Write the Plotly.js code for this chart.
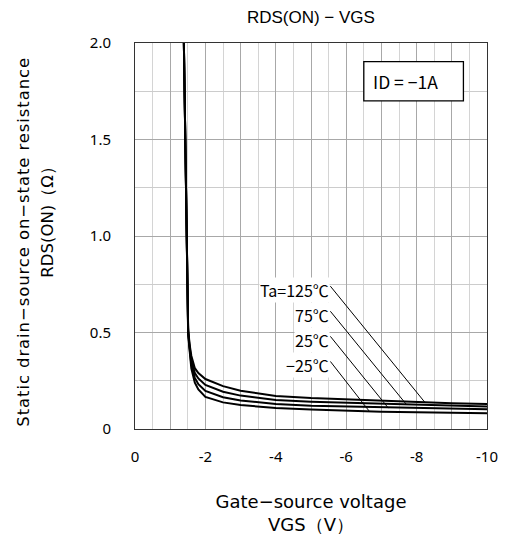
<!DOCTYPE html>
<html><head><meta charset="utf-8">
<script src="https://cdn.plot.ly/plotly-3.0.1.min.js"></script>
<style>
body{margin:0;background:#fff}#chart{width:508px;height:535px}
.annotation[data-index="5"] text{letter-spacing:0.9px}
</style>
</head><body><div id="chart"></div>
<script>
// Gate-source voltage (V)
const vgs = [-1.38, -1.40, -1.42, -1.45, -1.48, -1.51, -1.55, -1.6, -1.7, -1.8, -2.0, -2.5, -3, -4, -5, -6, -7, -8, -9, -10];
// RDS(ON) (Ohm) per ambient temperature
const r125 = [2.1, 1.85, 1.5, 1.1, 0.75, 0.52, 0.44, 0.38, 0.315, 0.29, 0.259, 0.222, 0.198, 0.171, 0.160, 0.153, 0.145, 0.139, 0.134, 0.130];
const r75  = [2.1, 1.85, 1.5, 1.1, 0.75, 0.51, 0.43, 0.355, 0.29, 0.262, 0.228, 0.193, 0.173, 0.150, 0.141, 0.136, 0.129, 0.124, 0.120, 0.116];
const r25  = [2.1, 1.85, 1.5, 1.1, 0.75, 0.50, 0.42, 0.335, 0.265, 0.232, 0.197, 0.165, 0.148, 0.129, 0.120, 0.116, 0.111, 0.107, 0.104, 0.102];
const rm25 = [2.1, 1.85, 1.5, 1.1, 0.75, 0.49, 0.41, 0.315, 0.24, 0.205, 0.166, 0.138, 0.124, 0.109, 0.101, 0.095, 0.090, 0.087, 0.084, 0.081];
const seriesNames = ["Ta=125℃", "75℃", "25℃", "−25℃"];
// label anchor (right end) and leader target on curve
const labelX = [-5.55, -5.55, -5.55, -5.55];
const labelY = [0.72, 0.59, 0.46, 0.33];
const leaderX = [-8.24, -7.72, -7.2, -6.66];
const leaderY = [0.137, 0.125, 0.108, 0.091];
// axis ticks
const xTickVals = [0, -1, -2, -3, -4, -5, -6, -7, -8, -9, -10];
const xTickText = ["0", "", "-2", "", "-4", "", "-6", "", "-8", "", "-10"];
const yTickVals = [0, 0.5, 1.0, 1.5, 2.0];
const yTickText = ["0", "0.5", "1.0", "1.5", "2.0"];
const yTitleLines = ["Static drain−source on−state resistance", "RDS(ON)（Ω）"];

const jp = '"Noto Sans CJK JP", "Noto Sans", sans-serif';
const dv = '"DejaVu Sans", sans-serif';
const allSeries = [r125, r75, r25, rm25];
const traces = allSeries.map((r, i) => ({
  x: vgs, y: r, type: 'scatter', mode: 'lines', name: seriesNames[i],
  line: {color: '#000', width: 2}, hoverinfo: 'skip'
}));

const annotations = [];
const shapes = [];
seriesNames.forEach((n, i) => {
  annotations.push({x: labelX[i], y: labelY[i], xref: 'x', yref: 'y', text: n, showarrow: false,
    xanchor: 'right', yanchor: 'middle', font: {family: jp, size: 16, color: '#000'}, bgcolor: '#fff', borderpad: 0});
  shapes.push({type: 'line', xref: 'x', yref: 'y', x0: labelX[i], y0: labelY[i] + 0.02, x1: leaderX[i], y1: leaderY[i],
    line: {color: '#000', width: 1}});
});
shapes.push({type: 'rect', xref: 'x', yref: 'y', x0: -6.5, x1: -9.33, y0: 1.70, y1: 1.903, line: {color: '#000', width: 1.3}, fillcolor: '#fff', layer: 'above'});
annotations.push({x: -6.7, y: 1.80, xref: 'x', yref: 'y', text: 'ID = −1A', showarrow: false, xanchor: 'left', yanchor: 'middle',
  font: {family: jp, size: 17.5, color: '#000'}});
// y-axis title lines (rotated)
const yShift = [-112, -87];
const yCenter = [0.484, 0.545];
yTitleLines.forEach((t, i) => {
  annotations.push({x: 0, y: yCenter[i], xref: 'paper', yref: 'paper', xshift: yShift[i], text: t, textangle: -90, showarrow: false,
    xanchor: 'center', yanchor: 'middle', font: {family: dv, size: 16.5, color: '#000'}});
});

const layout = {
  width: 508, height: 535,
  margin: {l: 135, r: 21, t: 43, b: 106},
  paper_bgcolor: '#fff', plot_bgcolor: '#fff',
  showlegend: false,
  title: {text: 'RDS(ON) − VGS', font: {family: 'Liberation Sans, Arial, sans-serif', size: 17, color: '#000'}, x: 0.612, xanchor: 'center', y: 0.968, yanchor: 'middle'},
  xaxis: {range: [0, -10], tickvals: xTickVals, ticktext: xTickText, ticks: '', ticklabelstandoff: 14,
    showgrid: true, gridcolor: '#a8a8a8', gridwidth: 1, zeroline: false,
    minor: {dtick: 0.5, showgrid: true, gridcolor: '#d4d4d4', gridwidth: 1, ticks: ''},
    showline: true, linecolor: '#333', linewidth: 1, mirror: true,
    tickfont: {family: 'Noto Sans, sans-serif', size: 15, color: '#000'},
    title: {text: 'Gate−source voltage<br>VGS（V）', font: {family: dv, size: 18, color: '#000'}, standoff: 38}},
  yaxis: {range: [0, 2], tickvals: yTickVals, ticktext: yTickText, ticks: '', ticklabelstandoff: 20,
    showgrid: true, gridcolor: '#a8a8a8', gridwidth: 1, zeroline: false,
    minor: {dtick: 0.25, showgrid: true, gridcolor: '#cccccc', gridwidth: 1, ticks: ''},
    showline: true, linecolor: '#333', linewidth: 1, mirror: true,
    tickfont: {family: 'Noto Sans, sans-serif', size: 15, color: '#000'}},
  annotations: annotations,
  shapes: shapes
};
Plotly.newPlot('chart', traces, layout, {staticPlot: true});
</script></body></html>
